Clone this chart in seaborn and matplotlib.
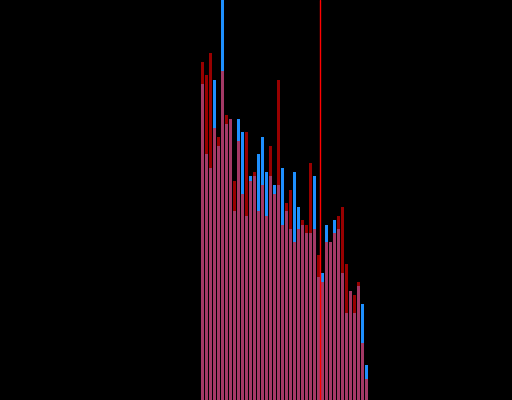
import numpy as np
import pandas as pd
import matplotlib
matplotlib.use("Agg")
import matplotlib.pyplot as plt
import seaborn as sns

# bar heights (blue series drawn first, red overlaid)
bins = list(range(42))
blue_counts = [316, 246, 232, 320, 254, 440, 276, 281, 189, 281,
               268, 184, 224, 224, 246, 263, 228, 224, 215, 215,
               232, 189, 171, 228, 193, 175, 167, 167, 224, 123,
               127, 175, 158, 180, 171, 127, 87, 109, 87, 114,
               96, 35]
red_counts = [338, 325, 347, 272, 263, 329, 285, 281, 219, 259,
              206, 268, 219, 228, 189, 215, 184, 254, 206, 320,
              175, 197, 210, 158, 171, 180, 175, 237, 171, 145,
              118, 158, 158, 167, 184, 193, 136, 109, 105, 118,
              57, 21]
marker_x = 29.42


def draw():
    sns.set_style("dark")
    fig = plt.figure(figsize=(5.12, 4), dpi=100, facecolor="black")
    ax = fig.add_axes([0, 0, 1, 1])
    ax.set_facecolor("black")

    df = pd.DataFrame({"bin": bins, "blue": blue_counts, "red": red_counts})

    # blue bars first, then semi-transparent red on top
    sns.barplot(data=df, x="bin", y="blue", color="#1e90ff", saturation=1,
                width=0.75, linewidth=0, edgecolor="none", ax=ax)
    sns.barplot(data=df, x="bin", y="red", color="red", alpha=0.6,
                saturation=1, width=0.75, linewidth=0, edgecolor="none", ax=ax)

    ax.axvline(marker_x, color="red", lw=1.0, zorder=5)

    ax.set_xlim(-50.625, 77.375)
    ax.set_ylim(0, 400)
    ax.axis("off")

    fig.savefig("out.png", dpi=100, facecolor="black")


if __name__ == "__main__":
    draw()
